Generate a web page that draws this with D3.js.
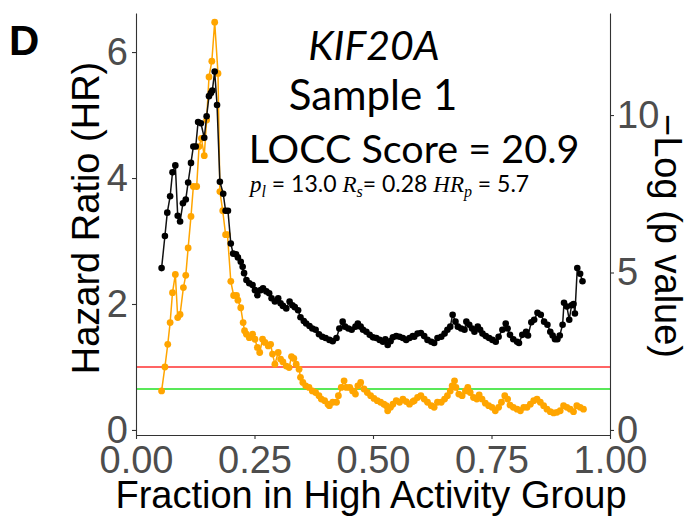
<!DOCTYPE html>
<html>
<head>
<meta charset="utf-8">
<script src="https://cdnjs.cloudflare.com/ajax/libs/d3/7.8.5/d3.min.js"></script>
<style>
  html, body { margin: 0; padding: 0; background: #fff; }
  svg { display: block; }
</style>
</head>
<body>
<svg id="chart" width="696" height="517"></svg>
<script>
// ---------------- data ----------------
const xTicks = [0, 0.25, 0.5, 0.75, 1];
const hrTicks = [0, 2, 4, 6];
const logpTicks = [0, 5, 10];
const hrReference = 1;          // red line (HR = 1)
const logpReference = 1.30103;  // green line (-log10 0.05)

const blackX = [0.054,0.061,0.066,0.072,0.077,0.083,0.088,0.093,0.099,0.105,
0.110,0.116,0.121,0.126,0.131,0.137,0.144,0.149,0.154,0.158,
0.161,0.166,0.171,0.177,0.184,0.189,0.194,0.200,0.205,0.211,
0.215,0.221,0.225,0.228,0.233,0.239,0.246,0.251,0.256,0.263,
0.268,0.275,0.281,0.286,0.293,0.300,0.305,0.310,0.317,0.324,
0.330,0.335,0.342,0.347,0.354,0.359,0.366,0.372,0.379,0.386,
0.393,0.400,0.408,0.415,0.423,0.429,0.436,0.441,0.448,0.455,
0.463,0.468,0.474,0.479,0.486,0.493,0.500,0.507,0.514,0.521,
0.526,0.531,0.537,0.542,0.549,0.556,0.563,0.570,0.577,0.584,
0.587,0.594,0.601,0.608,0.615,0.623,0.629,0.636,0.644,0.651,
0.657,0.663,0.668,0.674,0.679,0.686,0.693,0.697,0.703,0.709,
0.714,0.721,0.726,0.731,0.738,0.745,0.752,0.759,0.765,0.773,
0.780,0.784,0.789,0.796,0.804,0.808,0.815,0.823,0.827,0.834,
0.840,0.847,0.854,0.861,0.868,0.874,0.879,0.884,0.889,0.894,
0.900,0.903,0.909,0.914,0.919,0.923,0.926,0.931,0.937,0.942];

const blackHR = [2.57,3.08,3.45,3.71,4.09,4.20,3.40,3.31,3.60,3.66,
3.93,4.24,4.50,4.50,4.89,4.87,4.64,4.98,5.30,5.35,
5.39,5.69,5.16,3.94,3.75,3.48,3.48,2.96,2.80,2.79,
2.74,2.67,2.59,2.49,2.38,2.33,2.30,2.22,2.14,2.22,
2.25,2.20,2.17,2.09,2.04,2.09,2.01,1.97,1.93,2.04,
1.98,1.95,1.90,1.79,1.73,1.69,1.65,1.61,1.59,1.52,
1.48,1.46,1.43,1.41,1.46,1.61,1.72,1.64,1.61,1.59,
1.64,1.69,1.64,1.59,1.56,1.51,1.47,1.46,1.43,1.40,
1.44,1.35,1.41,1.47,1.49,1.48,1.46,1.43,1.46,1.49,
1.48,1.53,1.54,1.49,1.43,1.40,1.38,1.46,1.48,1.53,
1.59,1.64,1.83,1.72,1.64,1.61,1.59,1.72,1.67,1.61,
1.56,1.64,1.59,1.53,1.49,1.46,1.43,1.40,1.48,1.59,
1.69,1.61,1.51,1.44,1.40,1.38,1.51,1.56,1.50,1.71,
1.75,1.86,1.83,1.72,1.67,1.56,1.50,1.44,1.44,1.50,
1.67,2.02,1.96,1.75,1.98,2.00,1.85,2.57,2.48,2.36];

const orangeX = [0.054,0.061,0.067,0.072,0.077,0.083,0.088,0.093,0.100,0.105,
0.110,0.116,0.121,0.128,0.133,0.138,0.144,0.149,0.154,0.160,
0.166,0.173,0.177,0.183,0.189,0.193,0.200,0.206,0.212,0.215,
0.221,0.226,0.229,0.233,0.239,0.246,0.251,0.256,0.261,0.267,
0.272,0.279,0.284,0.288,0.293,0.300,0.305,0.310,0.317,0.323,
0.328,0.333,0.338,0.344,0.347,0.352,0.358,0.365,0.372,0.379,
0.386,0.391,0.398,0.405,0.408,0.415,0.423,0.427,0.433,0.439,
0.444,0.451,0.457,0.463,0.468,0.474,0.481,0.488,0.495,0.502,
0.509,0.516,0.523,0.528,0.531,0.537,0.542,0.549,0.556,0.563,
0.570,0.577,0.584,0.587,0.594,0.601,0.608,0.615,0.623,0.629,
0.636,0.644,0.651,0.657,0.663,0.667,0.672,0.675,0.681,0.688,
0.695,0.700,0.705,0.712,0.719,0.724,0.730,0.737,0.744,0.751,
0.758,0.765,0.771,0.778,0.784,0.789,0.796,0.804,0.811,0.818,
0.825,0.832,0.839,0.846,0.853,0.860,0.867,0.874,0.881,0.888,
0.895,0.902,0.909,0.916,0.923,0.930,0.937,0.944];

const orangeLogP = [1.24,2.00,2.72,3.41,4.36,4.94,3.57,3.67,4.52,4.91,
5.78,6.78,7.73,7.73,9.00,9.26,8.71,9.84,11.21,11.71,
12.95,11.32,7.57,6.96,6.20,6.20,4.72,4.27,4.27,4.12,
3.88,3.41,3.15,3.04,2.93,3.04,2.88,2.62,2.46,2.88,
2.78,2.67,2.72,2.41,2.09,2.46,2.25,2.16,2.03,1.98,
2.33,2.27,2.09,1.93,1.67,1.51,1.40,1.35,1.24,1.19,
1.09,0.98,0.93,0.82,0.77,0.88,0.88,1.09,1.35,1.56,
1.35,1.35,1.24,1.14,1.40,1.51,1.30,1.19,1.09,1.00,
0.93,0.88,0.82,0.77,0.61,0.72,0.82,0.93,0.88,0.98,
0.90,0.82,0.90,0.93,1.03,1.09,0.98,0.88,0.77,0.72,
0.88,0.88,0.98,1.09,1.24,1.40,1.56,1.35,1.14,1.09,
1.24,1.35,1.19,1.03,0.98,1.11,0.98,0.85,0.77,0.72,
0.61,0.72,0.88,1.09,0.98,0.79,0.72,0.66,0.61,0.72,
0.72,0.82,0.93,0.98,0.88,0.77,0.66,0.58,0.54,0.56,
0.61,0.77,0.72,0.66,0.58,0.77,0.72,0.66];

// ---------------- layout ----------------
const panel = { left: 136, right: 610, top: 13, bottom: 435 };
const svg = d3.select("#chart");
const sans = "'Liberation Sans', Arial, Helvetica, sans-serif";
const annFont = "Lato, 'Open Sans', sans-serif";

const x = d3.scaleLinear().domain([0, 1]).range([panel.left, panel.right]);
const yHR = d3.scaleLinear().domain([-0.08, 6.62]).range([panel.bottom, panel.top]);
const yP = d3.scaleLinear().domain([-0.16, 13.24]).range([panel.bottom, panel.top]);

const black = blackX.map((v, i) => ({ x: v, y: blackHR[i] }));
const orange = orangeX.map((v, i) => ({ x: v, y: orangeLogP[i] }));

// reference lines
svg.append("line")
  .attr("x1", x(0)).attr("x2", x(1))
  .attr("y1", yHR(hrReference)).attr("y2", yHR(hrReference))
  .attr("stroke", "#ff3030").attr("stroke-width", 1.4);
svg.append("line")
  .attr("x1", x(0)).attr("x2", x(1))
  .attr("y1", yP(logpReference)).attr("y2", yP(logpReference))
  .attr("stroke", "#22e022").attr("stroke-width", 1.4);

// orange series (-log p, right axis)
const lineP = d3.line().x(d => x(d.x)).y(d => yP(d.y));
svg.append("path").datum(orange)
  .attr("d", lineP).attr("fill", "none")
  .attr("stroke", "#FFA500").attr("stroke-width", 1.5);
svg.append("g").selectAll("circle").data(orange).join("circle")
  .attr("cx", d => x(d.x)).attr("cy", d => yP(d.y)).attr("r", 3.4)
  .attr("fill", "#FFA500");

// black series (HR, left axis)
const lineHR = d3.line().x(d => x(d.x)).y(d => yHR(d.y));
svg.append("path").datum(black)
  .attr("d", lineHR).attr("fill", "none")
  .attr("stroke", "#111").attr("stroke-width", 1.5);
svg.append("g").selectAll("circle").data(black).join("circle")
  .attr("cx", d => x(d.x)).attr("cy", d => yHR(d.y)).attr("r", 3.3)
  .attr("fill", "#000");

// axes
function styleAxis(g) {
  g.select(".domain").attr("stroke", "#333").attr("stroke-width", 1.1);
  g.selectAll(".tick line").attr("stroke", "#333").attr("stroke-width", 1.1);
  g.selectAll(".tick text").attr("fill", "#4D4D4D")
    .attr("font-family", sans).attr("font-size", 38);
}

svg.append("g")
  .attr("transform", `translate(0,${panel.bottom})`)
  .call(d3.axisBottom(x).tickValues(xTicks).tickFormat(d3.format(".2f"))
        .tickSize(4).tickSizeOuter(0).tickPadding(7))
  .call(styleAxis);

svg.append("g")
  .attr("transform", `translate(${panel.left},0)`)
  .call(d3.axisLeft(yHR).tickValues(hrTicks).tickFormat(d3.format("d"))
        .tickSize(4).tickSizeOuter(0).tickPadding(4))
  .call(styleAxis);

svg.append("g")
  .attr("transform", `translate(${panel.right},0)`)
  .call(d3.axisRight(yP).tickValues(logpTicks).tickFormat(d3.format("d"))
        .tickSize(4).tickSizeOuter(0).tickPadding(3))
  .call(styleAxis);

// axis titles
svg.append("text")
  .attr("x", (panel.left + panel.right) / 2 - 2).attr("y", 508)
  .attr("text-anchor", "middle").attr("font-family", sans).attr("font-size", 38)
  .attr("fill", "#000").text("Fraction in High Activity Group");

svg.append("text")
  .attr("transform", `translate(99,218) rotate(-90)`)
  .attr("text-anchor", "middle").attr("font-family", sans).attr("font-size", 38)
  .attr("fill", "#000").text("Hazard Ratio (HR)");

svg.append("text")
  .attr("transform", `translate(655,236) rotate(90)`)
  .attr("text-anchor", "middle").attr("font-family", sans).attr("font-size", 38)
  .attr("fill", "#000").text("\u2212Log (p value)");

// panel letter
svg.append("text")
  .attr("x", 9).attr("y", 55)
  .attr("font-family", sans).attr("font-weight", "bold").attr("font-size", 42)
  .attr("fill", "#000").text("D");

// annotations
svg.append("text")
  .attr("x", 374).attr("y", 60).attr("text-anchor", "middle")
  .attr("font-family", annFont).attr("font-style", "italic").attr("font-size", 41)
  .attr("fill", "#000").text("KIF20A");
svg.append("text")
  .attr("x", 373).attr("y", 110).attr("text-anchor", "middle")
  .attr("font-family", annFont).attr("font-size", 42)
  .attr("fill", "#000").text("Sample 1");
svg.append("text")
  .attr("x", 414).attr("y", 163).attr("text-anchor", "middle")
  .attr("font-family", annFont).attr("font-size", 39.5)
  .attr("fill", "#000").text("LOCC Score = 20.9");

const stats = svg.append("text")
  .attr("x", 250).attr("y", 192)
  .attr("font-family", annFont).attr("font-size", 23).attr("fill", "#000");
const serifIt = "'Liberation Serif', 'DejaVu Serif', serif";
function part(t, opts = {}) {
  const s = stats.append("tspan").text(t);
  if (opts.it) s.attr("font-family", serifIt).attr("font-style", "italic");
  if (opts.sub) s.attr("font-size", 16).attr("dy", opts.sub);
  return s;
}
part("p", { it: true });
part("l", { it: true, sub: 5 });
part(" = 13.0 ", { sub: -5 }).attr("font-size", 23);
part("R", { it: true });
part("s", { it: true, sub: 5 });
part("= 0.28 ", { sub: -5 }).attr("font-size", 23);
part("HR", { it: true });
part("p", { it: true, sub: 5 });
part(" = 5.7", { sub: -5 }).attr("font-size", 23);
</script>
</body>
</html>
